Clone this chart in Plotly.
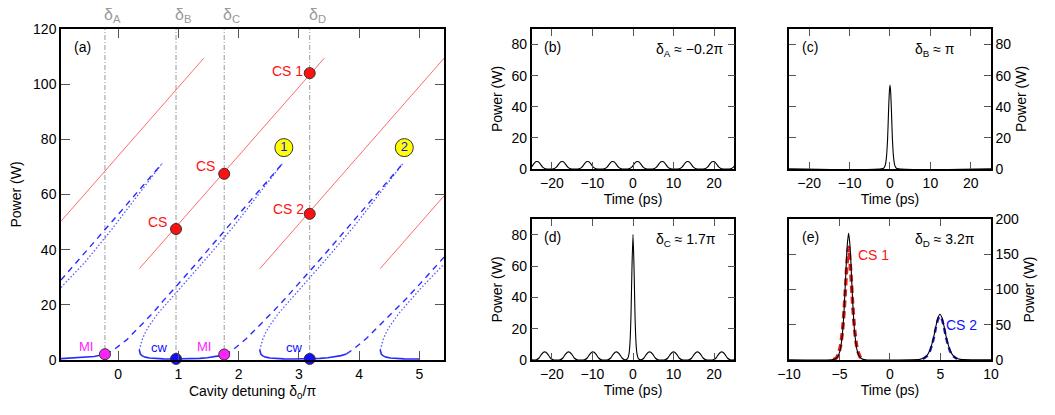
import plotly.graph_objects as go

FONT = "Liberation Sans, Arial, Helvetica, sans-serif"

# ---------------- Panel (a): cavity detuning vs power ----------------
# soliton branches (thin red)
red1_x = [-0.95, 1.42]; red1_p = [50.3, 109.4]
red2_x = [0.35, 3.42];  red2_p = [33.1, 109.4]
red3_x = [2.35, 5.41];  red3_p = [33.1, 109.4]
red4_x = [4.35, 5.41];  red4_p = [33.1, 59.5]

# stable cw (solid blue)
sol1_x = [-0.95, -0.75, -0.55, -0.40, -0.30, -0.21]
sol1_p = [0.5, 0.7, 1.0, 1.3, 1.7, 2.1]
sol2_x = [0.35, 0.355, 0.37, 0.40, 0.45, 0.52, 0.62, 0.75, 0.90, 1.05, 1.20, 1.35, 1.48, 1.58, 1.67, 1.76]
sol2_p = [3.6, 2.8, 2.1, 1.5, 1.05, 0.75, 0.55, 0.42, 0.36, 0.36, 0.42, 0.58, 0.8, 1.1, 1.5, 2.0]
sol3_x = [2.35, 2.355, 2.37, 2.40, 2.45, 2.52, 2.62, 2.75, 2.90, 3.05, 3.20, 3.35, 3.48, 3.60, 3.70, 3.79]
sol3_p = [3.6, 2.8, 2.1, 1.5, 1.05, 0.75, 0.55, 0.42, 0.36, 0.36, 0.42, 0.58, 0.8, 1.1, 1.6, 2.2]
sol4_x = [4.35, 4.355, 4.37, 4.40, 4.45, 4.52, 4.62, 4.75, 4.90, 5.00]
sol4_p = [3.6, 2.8, 2.1, 1.5, 1.05, 0.75, 0.55, 0.42, 0.36, 0.36]

# upper cw branch, MI unstable (dashed blue)
das1_x = [-0.95, -0.60, -0.15, 0.30, 0.73]
das1_p = [29.0, 37.6, 49.0, 60.4, 71.3]
das2_x = [-0.21, -0.08, 0.14, 0.36, 0.57, 0.76, 0.96, 1.40, 1.85, 2.30, 2.73]
das2_p = [2.1, 3.6, 7.3, 12.1, 16.9, 21.8, 26.6, 37.6, 49.0, 60.4, 71.3]
das3_x = [1.77, 1.90, 2.12, 2.35, 2.56, 2.77, 2.97, 3.40, 3.85, 4.30, 4.73]
das3_p = [2.0, 3.6, 7.6, 12.5, 17.3, 22.2, 27.0, 37.6, 49.0, 60.4, 71.3]
das4_x = [3.79, 3.91, 4.13, 4.35, 4.57, 4.79, 5.01, 5.23, 5.41]
das4_p = [2.2, 4.0, 8.0, 12.7, 17.5, 22.4, 27.6, 33.0, 37.3]

# middle cw branch, unstable (dotted blue)
dot1_x = [-0.95, -0.55, -0.12, 0.31, 0.73]
dot1_p = [26.3, 35.5, 47.0, 59.5, 71.3]
dot2_x = [0.35, 0.37, 0.40, 0.45, 0.52, 0.66, 0.86, 1.05, 1.45, 1.90, 2.32, 2.73]
dot2_p = [3.6, 5.5, 7.5, 10.0, 12.6, 16.9, 21.8, 26.6, 36.5, 48.0, 59.7, 71.3]
dot3_x = [2.35, 2.37, 2.40, 2.45, 2.52, 2.66, 2.86, 3.05, 3.45, 3.90, 4.32, 4.73]
dot3_p = [3.6, 5.5, 7.5, 10.0, 12.6, 16.9, 21.8, 26.6, 36.5, 48.0, 59.7, 71.3]
dot4_x = [4.35, 4.37, 4.40, 4.45, 4.52, 4.66, 4.86, 5.05, 5.41]
dot4_p = [3.6, 5.5, 7.5, 10.0, 12.6, 16.9, 21.8, 26.6, 34.8]

# marked states
delta_names = ["A", "B", "C", "D"]
delta_vals = [-0.22, 0.96, 1.76, 3.18]
mi_x = [-0.22, 1.76]; mi_p = [2.1, 2.0]
cw_x = [0.96, 3.18]; cw_p = [0.4, 0.4]
cs_x = [0.96, 1.76, 3.18, 3.18]; cs_p = [47.5, 67.5, 104.0, 53.0]
res_x = [2.75, 4.75]; res_p = [77.0, 77.0]; res_lbl = ["1", "2"]

# ---------------- Panels (b)-(e): temporal profiles ----------------
# MI pattern bump profile (read off panels b and d)
bump_off = [-2.1, -1.4, -0.8, -0.3, 0.0, 0.3, 0.8, 1.4, 2.1]
bump_pow = [0.1, 1.2, 3.3, 4.6, 4.8, 4.6, 3.3, 1.2, 0.1]
b_centers = [-23.7, -17.5, -11.2, -5.0, 1.1, 7.2, 13.5, 19.8, 26.2]
d_centers = [-21.8, -15.9, -9.9, -4.1, 4.1, 10.0, 15.9, 21.9]
d_bump_scale = 1.08

# (c) single soliton
c_t = [-25, -1.6, -1.2, -0.9, -0.6, -0.35, -0.15, 0.0, 0.15, 0.35, 0.6, 0.9, 1.2, 1.6, 25]
c_p = [0.2, 0.5, 2.2, 7.0, 19.0, 38.0, 50.0, 54.0, 50.0, 38.0, 19.0, 7.0, 2.2, 0.5, 0.2]

# (d) central soliton on MI background
d_sol_t = [-1.3, -1.0, -0.75, -0.5, -0.25, 0.0, 0.25, 0.5, 0.75, 1.0, 1.3]
d_sol_p = [1.0, 3.7, 10.6, 28.0, 59.5, 80.0, 59.5, 28.0, 10.6, 3.7, 1.0]

# (e) two solitons
cs1_t0 = -4.1
cs1_off = [-1.7, -1.3, -1.0, -0.8, -0.6, -0.45, -0.3, -0.15, 0.0, 0.15, 0.3, 0.45, 0.6, 0.8, 1.0, 1.3, 1.7]
cs1_pow = [0.3, 1.7, 6.8, 16.6, 39.3, 70.3, 114.7, 159.7, 180.0, 159.7, 114.7, 70.3, 39.3, 16.6, 6.8, 1.7, 0.3]
cs2_t0 = 4.95
cs2_off = [-2.0, -1.6, -1.3, -1.0, -0.8, -0.6, -0.4, -0.2, 0.0, 0.2, 0.4, 0.6, 0.8, 1.0, 1.3, 1.6, 2.0]
cs2_pow = [0.9, 2.8, 6.3, 13.9, 22.5, 34.0, 48.0, 60.0, 65.0, 60.0, 48.0, 34.0, 22.5, 13.9, 6.3, 2.8, 0.9]
fit1_off = [-1.5, -1.2, -1.0, -0.8, -0.6, -0.4, -0.2, 0.0, 0.2, 0.4, 0.6, 0.8, 1.0, 1.2, 1.5]
fit1_pow = [0.5, 3.0, 9.0, 20.0, 42.0, 80.0, 128.0, 160.0, 128.0, 80.0, 42.0, 20.0, 9.0, 3.0, 0.5]
fit2_off = [-1.7, -1.3, -1.0, -0.8, -0.6, -0.4, -0.2, 0.0, 0.2, 0.4, 0.6, 0.8, 1.0, 1.3, 1.7]
fit2_pow = [1.5, 5.5, 12.5, 21.0, 32.0, 46.0, 57.5, 62.0, 57.5, 46.0, 32.0, 21.0, 12.5, 5.5, 1.5]


def joined(*segs):
    xs, ys = [], []
    for sx, sy in segs:
        if xs:
            xs.append(None); ys.append(None)
        xs += list(sx); ys += list(sy)
    return xs, ys


def bumps(centers, scale=1.0):
    pts = []
    for c in centers:
        for o, p in zip(bump_off, bump_pow):
            pts.append((c + o, p * scale))
    return pts


fig = go.Figure()

# ---- panel a traces ----
rx, ry = joined((red1_x, red1_p), (red2_x, red2_p), (red3_x, red3_p), (red4_x, red4_p))
fig.add_trace(go.Scatter(x=rx, y=ry, mode="lines", line=dict(color="#ff6b6b", width=1),
                         xaxis="x", yaxis="y", hoverinfo="skip"))
tx, ty = joined((dot1_x, dot1_p), (dot2_x, dot2_p), (dot3_x, dot3_p), (dot4_x, dot4_p))
fig.add_trace(go.Scatter(x=tx, y=ty, mode="lines",
                         line=dict(color="#5a5aff", width=1.3, dash="1.5px,2px"),
                         xaxis="x", yaxis="y", hoverinfo="skip"))
dx, dy = joined((das1_x, das1_p), (das2_x, das2_p), (das3_x, das3_p), (das4_x, das4_p))
fig.add_trace(go.Scatter(x=dx, y=dy, mode="lines",
                         line=dict(color="#2a2aff", width=1.4, dash="6px,5px"),
                         xaxis="x", yaxis="y", hoverinfo="skip"))
sx, sy = joined((sol1_x, sol1_p), (sol2_x, sol2_p), (sol3_x, sol3_p), (sol4_x, sol4_p))
fig.add_trace(go.Scatter(x=sx, y=sy, mode="lines", line=dict(color="#2a2aff", width=1.6),
                         xaxis="x", yaxis="y", hoverinfo="skip"))

mk_line = dict(color="#333333", width=1)
fig.add_trace(go.Scatter(x=mi_x, y=mi_p, mode="markers", cliponaxis=False,
                         marker=dict(size=11, color="#ff22ff", line=mk_line), xaxis="x", yaxis="y"))
fig.add_trace(go.Scatter(x=cw_x, y=cw_p, mode="markers", cliponaxis=False,
                         marker=dict(size=11, color="#1010ff", line=mk_line), xaxis="x", yaxis="y"))
fig.add_trace(go.Scatter(x=cs_x, y=cs_p, mode="markers", cliponaxis=False,
                         marker=dict(size=11, color="#ff1010", line=mk_line), xaxis="x", yaxis="y"))
fig.add_trace(go.Scatter(x=res_x, y=res_p, mode="markers+text", text=res_lbl,
                         textposition="middle center", cliponaxis=False,
                         textfont=dict(color="#1010ff", size=13, family=FONT),
                         marker=dict(size=18, color="#ffff00", line=dict(color="#333", width=1)),
                         xaxis="x", yaxis="y"))

# ---- panel b ----
pts = sorted(bumps(b_centers))
fig.add_trace(go.Scatter(x=[p[0] for p in pts], y=[p[1] for p in pts], mode="lines",
                         line=dict(color="black", width=1.1, shape="spline", smoothing=0.6),
                         xaxis="x2", yaxis="y2", hoverinfo="skip"))
# ---- panel c ----
fig.add_trace(go.Scatter(x=c_t, y=c_p, mode="lines",
                         line=dict(color="black", width=1.1, shape="spline", smoothing=0.6),
                         xaxis="x3", yaxis="y3", hoverinfo="skip"))
# ---- panel d ----
pts = sorted(bumps(d_centers, d_bump_scale) + list(zip(d_sol_t, d_sol_p)) + [(-25, 0.1), (25, 0.1)])
fig.add_trace(go.Scatter(x=[p[0] for p in pts], y=[p[1] for p in pts], mode="lines",
                         line=dict(color="black", width=1.1, shape="spline", smoothing=0.6),
                         xaxis="x4", yaxis="y4", hoverinfo="skip"))
# ---- panel e ----
fig.add_trace(go.Scatter(x=[cs1_t0 + o for o in fit1_off], y=fit1_pow, mode="lines",
                         line=dict(color="#e02020", width=3.5, dash="7px,4px", shape="spline", smoothing=0.6),
                         xaxis="x5", yaxis="y5", hoverinfo="skip"))
fig.add_trace(go.Scatter(x=[cs2_t0 + o for o in fit2_off], y=fit2_pow, mode="lines",
                         line=dict(color="#2020e0", width=2.5, dash="6px,4px", shape="spline", smoothing=0.6),
                         xaxis="x5", yaxis="y5", hoverinfo="skip"))
e_t = [-10] + [cs1_t0 + o for o in cs1_off] + [cs2_t0 + o for o in cs2_off] + [10]
e_p = [0.2] + cs1_pow + cs2_pow + [0.2]
fig.add_trace(go.Scatter(x=e_t, y=e_p, mode="lines",
                         line=dict(color="black", width=1.1, shape="spline", smoothing=0.6),
                         xaxis="x5", yaxis="y5", hoverinfo="skip"))

# ---- axes ----
tickfont = dict(size=14, family=FONT, color="black")
titlefont = dict(size=14, family=FONT, color="black")


def ax(**kw):
    d = dict(showline=True, linecolor="black", linewidth=1.5, mirror="allticks",
             ticks="inside", ticklen=8, tickwidth=1.2, tickcolor="#555555",
             showgrid=False, zeroline=False, tickfont=tickfont, automargin=False)
    d.update(kw)
    return d


xa_a = [0.0578, 0.4209]
ya_a = [0.1325, 0.9301]
xb = [0.504, 0.696]
xc = [0.7479, 0.9393]
ytop = [0.5928, 0.9301]
ybot = [0.1325, 0.4723]

fig.update_layout(
    width=1055, height=415, autosize=False,
    margin=dict(l=0, r=0, t=0, b=0),
    paper_bgcolor="white", plot_bgcolor="white",
    showlegend=False,
    font=dict(family=FONT, size=14, color="black"),
    xaxis=ax(domain=xa_a, range=[-0.95, 5.41], tickvals=[0, 1, 2, 3, 4, 5], anchor="y", ticklen=9,
             title=dict(text="Cavity detuning δ<sub>0</sub>/π", font=titlefont, standoff=6)),
    yaxis=ax(domain=ya_a, range=[0, 120], tickvals=[0, 20, 40, 60, 80, 100, 120], anchor="x", ticklen=9,
             title=dict(text="Power (W)", font=titlefont, standoff=8)),
    xaxis2=ax(domain=xb, range=[-25, 25], tickvals=[-20, -10, 0, 10, 20], anchor="y2", ticklen=7,
              title=dict(text="Time (ps)", font=titlefont, standoff=4)),
    yaxis2=ax(domain=ytop, range=[0, 90], tickvals=[0, 20, 40, 60, 80], anchor="x2", ticklen=7,
              title=dict(text="Power (W)", font=titlefont, standoff=6)),
    xaxis3=ax(domain=xc, range=[-25, 25], tickvals=[-20, -10, 0, 10, 20], anchor="y3", ticklen=7,
              title=dict(text="Time (ps)", font=titlefont, standoff=4)),
    yaxis3=ax(domain=ytop, range=[0, 90], tickvals=[0, 20, 40, 60, 80], anchor="x3", side="right", ticklen=7,
              title=dict(text="Power (W)", font=titlefont, standoff=6)),
    xaxis4=ax(domain=xb, range=[-25, 25], tickvals=[-20, -10, 0, 10, 20], anchor="y4", ticklen=7,
              title=dict(text="Time (ps)", font=titlefont, standoff=4)),
    yaxis4=ax(domain=ybot, range=[0, 90], tickvals=[0, 20, 40, 60, 80], anchor="x4", ticklen=7,
              title=dict(text="Power (W)", font=titlefont, standoff=6)),
    xaxis5=ax(domain=xc, range=[-10, 10], tickvals=[-10, -5, 0, 5, 10], anchor="y5", ticklen=7,
              title=dict(text="Time (ps)", font=titlefont, standoff=4)),
    yaxis5=ax(domain=ybot, range=[0, 200], tickvals=[0, 50, 100, 150, 200], anchor="x5", side="right", ticklen=7,
              title=dict(text="Power (W)", font=titlefont, standoff=6)),
)

shapes = []
for v in delta_vals:
    shapes.append(dict(type="line", xref="x", yref="y", x0=v, x1=v, y0=0, y1=120,
                       line=dict(color="#999999", width=1, dash="5px,2px,1px,2px"), layer="below"))
fig.update_layout(shapes=shapes)

ann = []
for n, v in zip(delta_names, delta_vals):
    ann.append(dict(xref="x", yref="paper", x=v, y=1 - 16 / 415, text=f"δ<sub>{n}</sub>",
                    showarrow=False, xanchor="left", yanchor="middle", xshift=-3,
                    font=dict(size=16, color="#999999", family=FONT)))


def label(text, x, y, xr, yr, color="black", size=13, xanchor="center"):
    ann.append(dict(xref=xr, yref=yr, x=x, y=y, text=text, showarrow=False, xanchor=xanchor,
                    yanchor="middle", font=dict(size=size, color=color, family=FONT)))


label("(a)", -0.76, 113.6, "x", "y", size=14, xanchor="left")
label("MI", -0.54, 4.8, "x", "y", color="#ff22ff")
label("MI", 1.42, 4.8, "x", "y", color="#ff22ff")
label("cw", 0.68, 4.4, "x", "y", color="#1010ff")
label("cw", 2.92, 4.4, "x", "y", color="#1010ff")
label("CS", 0.65, 49.9, "x", "y", color="#ff1010", size=14)
label("CS", 1.45, 70.3, "x", "y", color="#ff1010", size=14)
label("CS 1", 2.81, 104.9, "x", "y", color="#ff1010", size=14)
label("CS 2", 2.82, 54.9, "x", "y", color="#ff1010", size=14)

label("(b)", -22.4, 78.5, "x2", "y2", size=14, xanchor="left")
label("δ<sub>A</sub> ≈ −0.2π", 5.3, 76.5, "x2", "y2", size=14, xanchor="left")
label("(c)", -22.4, 78.5, "x3", "y3", size=14, xanchor="left")
label("δ<sub>B</sub> ≈ π", 5.6, 76.5, "x3", "y3", size=14, xanchor="left")
label("(d)", -22.4, 78.5, "x4", "y4", size=14, xanchor="left")
label("δ<sub>C</sub> ≈ 1.7π", 5.3, 76.5, "x4", "y4", size=14, xanchor="left")
label("(e)", -8.95, 175, "x5", "y5", size=14, xanchor="left")
label("δ<sub>D</sub> ≈ 3.2π", 2.3, 170, "x5", "y5", size=14, xanchor="left")
label("CS 1", -1.65, 149, "x5", "y5", color="#ff1010", size=14)
label("CS 2", 7.1, 49.6, "x5", "y5", color="#1010ff", size=14)

fig.update_layout(annotations=ann)

fig.write_html("out.html")
